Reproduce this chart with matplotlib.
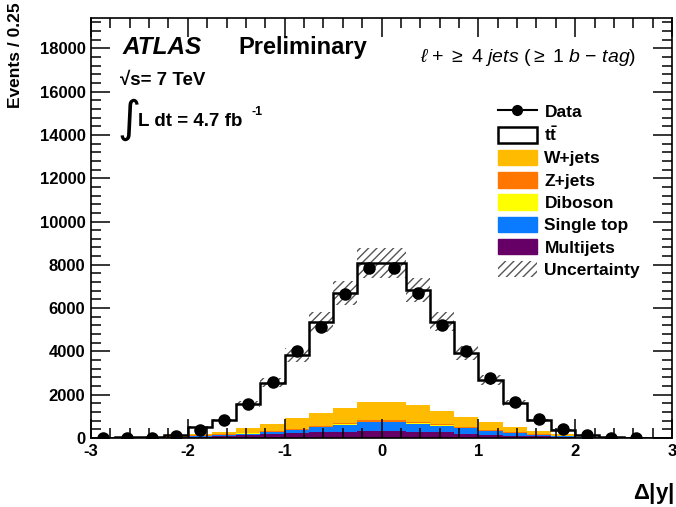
import matplotlib

matplotlib.use("Agg")
import matplotlib.pyplot as plt
import numpy as np
from matplotlib.lines import Line2D
from matplotlib.patches import Patch
from matplotlib.ticker import MultipleLocator

plt.rcParams.update({
    "font.family": ["Liberation Sans", "DejaVu Sans"],
    "mathtext.fontset": "custom",
    "mathtext.rm": "Liberation Sans",
    "mathtext.it": "Liberation Sans:italic",
    "mathtext.bf": "Liberation Sans:bold",
    "axes.unicode_minus": False,
    "hatch.linewidth": 1.0,
})

# Delta|y| binning, 0.25 per bin from -3 to 3
edges = np.arange(-3.0, 3.001, 0.25)

multijets = [5, 10, 20, 28, 60, 90, 125, 165, 210, 255, 290, 320,
             320, 290, 255, 200, 150, 110, 75, 48, 20, 12, 6, 3]
single_top = [5, 10, 18, 25, 45, 55, 80, 115, 170, 250, 330, 410,
              410, 370, 320, 240, 175, 130, 80, 50, 20, 12, 6, 2]
diboson = [0, 1, 2, 2, 4, 6, 8, 10, 12, 14, 16, 18,
           18, 16, 14, 12, 10, 8, 6, 4, 2, 1, 1, 0]
zjets = [1, 2, 3, 4, 8, 12, 18, 25, 35, 45, 55, 65,
         65, 55, 45, 35, 25, 18, 12, 8, 4, 2, 1, 1]
wjets = [3, 5, 10, 25, 83, 107, 215, 347, 482, 606, 695, 850,
         850, 778, 613, 483, 395, 242, 150, 60, 20, 8, 4, 2]
ttbar = [4, 8, 15, 40, 293, 546, 1110, 1892, 2921, 4188, 5325, 6406,
         6406, 5327, 4125, 2950, 1924, 1122, 492, 215, 60, 15, 5, 2]
uncert = [1, 3, 5, 12, 45, 70, 130, 210, 310, 440, 550, 700,
          700, 560, 440, 320, 220, 135, 70, 35, 12, 5, 2, 1]
data = [6, 9, 15, 106, 370, 845, 1570, 2600, 4018, 5127, 6637, 7866,
        7866, 6683, 5219, 4003, 2757, 1677, 893, 400, 139, 18, 6, 0]

components = [
    (multijets, "#660066", "Multijets"),
    (single_top, "#0a7aff", "Single top"),
    (diboson, "#ffff00", "Diboson"),
    (zjets, "#ff7700", "Z+jets"),
    (wjets, "#ffbb00", "W+jets"),
]

fig = plt.figure(figsize=(6.76, 5.07), dpi=100)
ax = fig.add_axes([91 / 676, 1 - 438 / 507, (672 - 91) / 676, (438 - 18) / 507])

# stacked backgrounds
bottom = np.zeros(len(edges) - 1)
for vals, col, _ in components:
    top = bottom + np.array(vals)
    ax.stairs(top, edges, baseline=bottom, fill=True, color=col, lw=0)
    bottom = top

total = bottom + np.array(ttbar)
ax.stairs(total, edges, baseline=bottom, fill=True, color="white", lw=0)

unc = np.array(uncert)
ax.stairs(total + unc, edges, baseline=total - unc, fill=True,
          facecolor="none", edgecolor="#555555", hatch="////", lw=0)
ax.stairs(total, edges, color="black", lw=1.8)

# data points
d = np.array(data, dtype=float)
centers = 0.5 * (edges[:-1] + edges[1:])
m = d > 0
ax.errorbar(centers[m], d[m], yerr=np.sqrt(d[m]), fmt="o", color="black",
            ms=8, elinewidth=1.2, capsize=0, zorder=5)

ax.set_xlim(-3, 3)
ax.set_ylim(0, 19400)
ax.xaxis.set_major_locator(MultipleLocator(1))
ax.xaxis.set_minor_locator(MultipleLocator(0.2))
ax.yaxis.set_major_locator(MultipleLocator(2000))
ax.yaxis.set_minor_locator(MultipleLocator(400))
ax.tick_params(which="both", direction="in", top=True, right=True,
               labelsize=12, width=1.1, pad=4)
ax.tick_params(which="major", length=14)
ax.tick_params(which="minor", length=7)
for s in ax.spines.values():
    s.set_linewidth(1.2)
for lab in ax.get_xticklabels() + ax.get_yticklabels():
    lab.set_fontweight("bold")

# labels
fig.text(16 / 676, 1 - 2 / 507, "Events / 0.25", rotation=90, ha="center",
         va="top", fontsize=12.5, fontweight="bold")
fig.text(674 / 676, 1 - 499 / 507, r"$\mathbf{\Delta}$|y|", ha="right",
         va="baseline", fontsize=16, fontweight="bold")

fig.text(122 / 676, 1 - 54 / 507, "ATLAS", fontsize=17.5, fontweight="bold",
         fontstyle="italic", va="baseline")
fig.text(238 / 676, 1 - 54 / 507, "Preliminary", fontsize=17,
         fontweight="bold", va="baseline")
fig.text(120 / 676, 1 - 85 / 507, "\u221as= 7 TeV", fontsize=13.5,
         fontweight="bold", va="baseline")
fig.text(117 / 676, 1 - 132 / 507, "\u222b", fontsize=32, va="baseline",
         family=["DejaVu Sans"])
fig.text(138 / 676, 1 - 126 / 507, "L dt = 4.7 fb", fontsize=13.5,
         fontweight="bold", va="baseline")
fig.text(252 / 676, 1 - 115 / 507, "-1", fontsize=9, fontweight="bold",
         va="baseline")
fig.text(636 / 676, 1 - 62 / 507,
         r"$\ell$ + $\geq$ 4 $jets$ ($\geq$ 1 $b$ $-$ $tag$)",
         fontsize=14, ha="right", va="baseline")

handles = [
    Line2D([], [], color="black", marker="o", ms=7, lw=1.5),
    Patch(facecolor="white", edgecolor="black", lw=1.8),
]
labels = ["Data", r"$\mathbf{t\bar{t}}$"]
for vals, col, name in components[::-1]:
    handles.append(Patch(facecolor=col, edgecolor=col))
    labels.append(name)
handles.append(Patch(facecolor="none", edgecolor="#555555", hatch="////", lw=0))
labels.append("Uncertainty")

leg = ax.legend(handles, labels, loc="upper left",
                bbox_to_anchor=((497 - 91) / 581 - 0.02, (438 - 91) / 420),
                frameon=False, fontsize=12.5, handlelength=2.3, handleheight=1.0,
                labelspacing=0.32, handletextpad=0.4, borderpad=0.2)
for t in leg.get_texts():
    t.set_fontweight("bold")

fig.savefig("out.png", dpi=100)
